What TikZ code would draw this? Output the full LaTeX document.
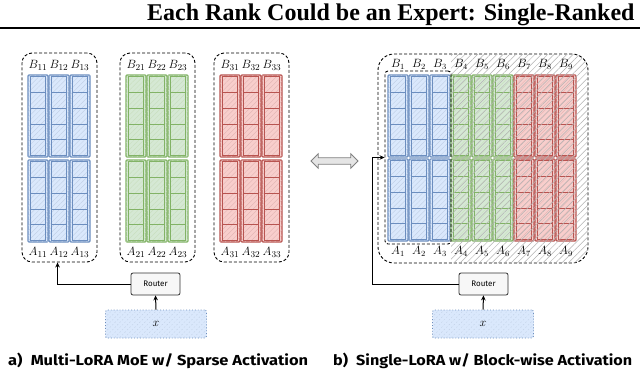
\documentclass[tikz,border=0pt]{standalone}
\usepackage{fontspec}
\setmainfont{Liberation Serif}
\newfontfamily\handfont{Fira Sans}
\usetikzlibrary{patterns.meta,shapes.arrows,arrows.meta}
\definecolor{bluD}{HTML}{6C8EBF}
\definecolor{bluF}{HTML}{DAE8FC}
\definecolor{grnD}{HTML}{82B366}
\definecolor{grnF}{HTML}{D5E8D4}
\definecolor{redD}{HTML}{B85450}
\definecolor{redF}{HTML}{F8CECC}
\newcommand\halfcol[3]{%
  \path[draw=#3D, line width=1.3pt, fill=#3F, rounded corners=1pt,
    postaction={pattern={Lines[angle=45,distance=3.5pt,line width=0.3pt]}, pattern color=#3D!45}]
    (#1,#2) rectangle ++(20,82);
  \foreach \k in {0,...,4}{\draw[#3D, line width=0.7pt] ({#1+2.5},{#2+1.5+\k*15.8}) rectangle ++(15,15.8);}%
}
\tikzset{
  grp/.style={draw=black, line width=0.9pt, dash pattern=on 3pt off 2pt, rounded corners=10pt, inner sep=0pt},
  lab/.style={font=\fontsize{12.5}{12}\selectfont, inner sep=0pt},
  rlab/.style={font=\fontsize{12}{12}\selectfont, inner sep=0pt},
  router/.style={draw=black!80, fill=gray!6, line width=0.8pt, rounded corners=2pt, minimum width=49pt, minimum height=22pt, inner sep=0pt, font=\handfont\fontsize{8}{8}\selectfont},
  xbox/.style={draw=bluD, fill=bluF, line width=0.9pt, dotted, rounded corners=2pt, minimum width=101pt, minimum height=28pt, inner sep=0pt, font=\fontsize{11.5}{11}\selectfont,
    postaction={pattern={Lines[angle=45,distance=3.5pt,line width=0.3pt]}, pattern color=bluD!45}},
  arr/.style={black, line width=1pt, -{Stealth[length=5pt,width=4.5pt]}},
  captext/.style={font=\handfont\bfseries\fontsize{14.5}{15}\selectfont, inner sep=0pt, anchor=west},
}
\begin{document}
\begin{tikzpicture}[x=1pt,y=-1pt]
\useasboundingbox (0,0) rectangle (640,373);
\fill[white] (0,0) rectangle (640,373);
% title
\node[anchor=base west, inner sep=0pt, font=\fontsize{24}{24}\selectfont\bfseries] (title) at (147,20) {Each Rank Could be an Expert: Single-Ranked};
\coordinate (rl) at (0,27.5);
\coordinate (rr) at (640,27.5);
\draw[line width=2pt] (rl) -- (rr);
% left groups
\foreach \L/\c [count=\gi] in {22/blu, 120/grn, 214/red} {
  \node[grp, minimum width=75pt, minimum height=209pt] (g\gi) at (\L+37.5,157.5) {};
  \foreach \j in {1,2,3} {
    \pgfmathsetmacro\cx{\L+6+21*(\j-1)}
    \halfcol{\cx}{75}{\c}
    \halfcol{\cx}{160}{\c}
    \node[lab] (B\gi\j) at (\cx+10,65) {$B_{\gi\j}$};
    \node[lab] (A\gi\j) at (\cx+10,252) {$A_{\gi\j}$};
  }
}
\node[router] (r1) at (155.5,284) {Router};
\node[xbox] (x1) at (156,324) {$x$};
\draw[arr] (x1.north) -- (r1.south);
\draw[arr] (r1.west) -| ([xshift=36pt]g1.south west);
% double arrow
\node[double arrow, draw=gray, fill=gray!20, line width=0.8pt, minimum height=47pt, minimum width=0pt, double arrow head extend=4pt, inner sep=2.8pt] (da) at (334.5,161) {};
% right panel
\node[grp, rounded corners=16pt, minimum width=210pt, minimum height=209pt] (g4) at (483,158.5) {};
\foreach \i/\c in {1/blu,2/blu,3/blu,4/grn,5/grn,6/grn,7/red,8/red,9/red} {
  \pgfmathsetmacro\cx{388+21*(\i-1)}
  \halfcol{\cx}{75}{\c}
  \halfcol{\cx}{159}{\c}
}
\begin{scope}
  \clip[rounded corners=16pt] (378,54) rectangle (588,263);
  \fill[pattern={Lines[angle=45,distance=4.5pt,line width=0.5pt]}, pattern color=gray!60] (451,54) rectangle (588,263);
\end{scope}
\foreach \i in {1,...,9} {
  \pgfmathsetmacro\cx{388+21*(\i-1)}
  \node[rlab] (RB\i) at (\cx+10,64) {$B_{\i}$};
  \node[rlab] (RA\i) at (\cx+10,251) {$A_{\i}$};
}
\node[grp, rounded corners=3pt, minimum width=66pt, minimum height=173pt] (bb) at (418,157.5) {};
\node[router] (r2) at (483.5,284) {Router};
\node[xbox] (x2) at (483,324) {$x$};
\draw[arr] (x2.north) -- (r2.south);
\draw[arr] (r2.west) -- ++(-86pt,0) |- (bb.west);
% captions
\node[captext] (capa) at (8,361) {\resizebox{300pt}{\height}{a)\enspace Multi-LoRA MoE w/ Sparse Activation}};
\node[captext] (capb) at (333,361) {\resizebox{299pt}{\height}{b)\enspace Single-LoRA w/ Block-wise Activation}};
\end{tikzpicture}
\end{document}
